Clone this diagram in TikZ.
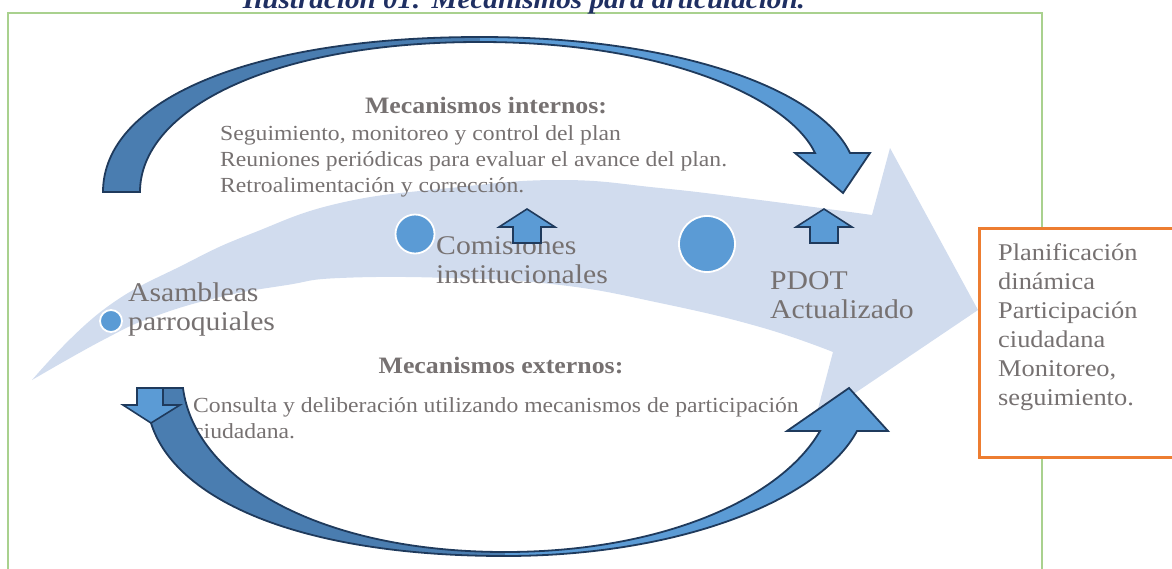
\documentclass[tikz,border=0pt]{standalone}
\usepackage{fontspec}
\setmainfont{Liberation Serif}[FakeStretch=1.1]
\usepackage{xcolor}
\definecolor{ArcNavy}{HTML}{1F3A5C}
\definecolor{ArcDark}{HTML}{4A7DB0}
\definecolor{ArcLight}{HTML}{5B9BD5}
\definecolor{FlowBlue}{HTML}{D1DCEE}
\definecolor{TextGray}{HTML}{767171}
\definecolor{FrameGreen}{HTML}{A9D18E}
\definecolor{BoxOrange}{HTML}{ED7D31}
\definecolor{TitleNavy}{HTML}{1F2F62}
\usepackage{tikz}

\begin{document}
\begin{tikzpicture}[x=1pt, y=-1pt,
        ribbon/.style={draw=ArcNavy, line width=1.8pt},
        blockarrow/.style={fill=ArcLight, draw=ArcNavy, line width=1.6pt},
        dot/.style={circle, fill=ArcLight, draw=white, line width=1.8pt, inner sep=0pt},
        bodytxt/.style={TextGray, font=\fontsize{21.5}{26}\selectfont,
                        inner sep=0pt, anchor=base west, align=left},
        headtxt/.style={TextGray, font=\fontsize{23.5}{28}\selectfont\bfseries,
                        inner sep=0pt, anchor=base},
        stagetxt/.style={TextGray, font=\fontsize{27}{28.5}\selectfont,
                         inner sep=0pt, anchor=base west, align=left}
      ]
        \useasboundingbox (0,0) rectangle (1172,568);
        \clip (0,0) rectangle (1172,568);
        % Frame
        \draw[FrameGreen, line width=1.8pt] (8,13) rectangle (1042,620);
        % Flow arrow
        \fill[FlowBlue] plot[smooth, tension=0.75] coordinates {(32,380) (103,310) (187,263)
            (253,233) (340,203) (450,188) (560,180) (660,188) (760,200) (872,215)}
          -- (890,148) -- (978,310) -- (815,420)
          -- plot[smooth, tension=0.75] coordinates {(833,352) (760,327) (660,303) (560,285)
            (450,278) (340,278) (287,285) (220,297) (153,317) (103,340) (32,380)} -- cycle;
        % Stage dots
        \node[dot, minimum size=22pt] (dotA) at (111,321) {};
        \node[dot, minimum size=39pt] (dotC) at (415,234) {};
        \node[dot, minimum size=56pt] (dotP) at (707,244) {};
        % Texts (base = last line)
        \node[headtxt] (intHead) at (486,113) {Mecanismos internos:};
        \node[bodytxt] (intList) at (220,192) {Seguimiento, monitoreo y control del plan\\
          Reuniones periódicas para evaluar el avance del plan.\\
          Retroalimentación y corrección.};
        \node[stagetxt] (asam) at (128,330) {Asambleas\\parroquiales};
        \node[stagetxt] (comi) at (436,283) {Comisiones\\institucionales};
        \node[stagetxt] (pdot) at (770,318) {PDOT\\Actualizado};
        \node[headtxt] (extHead) at (501,373) {Mecanismos externos:};
        \node[bodytxt] (extList) at (193,438) {Consulta y deliberación utilizando mecanismos de participación\\
          ciudadana.};
        % Upper loop
        \fill[ArcDark] (103,192) .. controls (103,100) and (250,37) .. (480,37)
          -- (480,42) .. controls (270,42) and (140,110) .. (140,192) -- cycle;
        \fill[ArcLight] (480,37) .. controls (680,37) and (820,90) .. (850,153)
          -- (870,153) -- (843,193) -- (795,153) -- (815,153)
          .. controls (790,100) and (670,42) .. (480,42) -- cycle;
        \draw[ribbon] (103,192) .. controls (103,100) and (250,37) .. (480,37)
          .. controls (680,37) and (820,90) .. (850,153)
          -- (870,153) -- (843,193) -- (795,153) -- (815,153)
          .. controls (790,100) and (670,42) .. (480,42)
          .. controls (270,42) and (140,110) .. (140,192) -- cycle;
        % Lower loop
        \fill[ArcDark] (140,388) -- (183,388) .. controls (195,480) and (320,552) .. (505,552)
          -- (505,556) .. controls (300,556) and (175,500) .. (151,423) -- cycle;
        \fill[ArcLight] (505,552) .. controls (660,552) and (780,500) .. (820,431)
          -- (787,431) -- (849,388) -- (888,431) -- (857,431)
          .. controls (820,500) and (680,556) .. (505,556) -- cycle;
        \draw[ribbon] (140,388) -- (183,388) .. controls (195,480) and (320,552) .. (505,552)
          .. controls (660,552) and (780,500) .. (820,431)
          -- (787,431) -- (849,388) -- (888,431) -- (857,431)
          .. controls (820,500) and (680,556) .. (505,556)
          .. controls (300,556) and (175,500) .. (151,423) -- cycle;
        \draw[blockarrow] (137,388) -- (163,388) -- (163,405) -- (180,405)
          -- (151,423) -- (123,405) -- (137,405) -- cycle;
        % Small up arrows
        \foreach \x in {527,824}
          \draw[blockarrow] (\x,209) -- ++(28,18) -- ++(-14,0) -- ++(0,16)
            -- ++(-28,0) -- ++(0,-16) -- ++(-14,0) -- cycle;
        % Result box
        \node[draw=BoxOrange, fill=white, line width=2.7pt, minimum width=240pt,
              minimum height=229pt, anchor=north west, inner sep=0pt] (goalBox) at (978,227) {};
        \node[TextGray, font=\fontsize{24}{29}\selectfont, anchor=base west, align=left,
              inner sep=0pt] (goalTxt) at (998,405) {Planificación\\dinámica\\Participación\\
          ciudadana\\Monitoreo,\\seguimiento.};
        % Title
        \node[TitleNavy, font=\fontsize{26.5}{30}\selectfont\bfseries\itshape, anchor=base,
              inner sep=0pt] (title) at (524,8) {Ilustración 01: Mecanismos para articulación.};
      \end{tikzpicture}
\end{document}
